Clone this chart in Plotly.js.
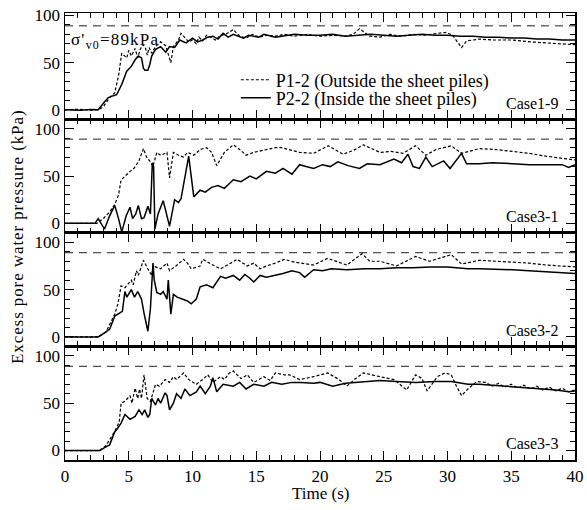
<!DOCTYPE html>
<html>
<head>
<meta charset="utf-8">
<script src="https://cdn.plot.ly/plotly-3.0.1.min.js"></script>
<style>
html,body{margin:0;padding:0;background:#fff;}
#chart{width:587px;height:510px;}
#chart g.annotation[data-index="4"] text{letter-spacing:1.2px;}
#chart g.annotation[data-index="5"] text{letter-spacing:0.9px;}
</style>
</head>
<body>
<div id="chart"></div>
<script>
// ---------- DATA ----------
var sigmaV0 = 89;
var caseLabels = ['Case1-9', 'Case3-1', 'Case3-2', 'Case3-3'];
var seriesNames = ['P1-2 (Outside the sheet piles)', 'P2-2 (Inside the sheet piles)'];
var xTickVals = [0, 5, 10, 15, 20, 25, 30, 35, 40];
var yTickVals = [0, 50, 100];

// Case1-9
var c19_p1_t = [0,1.0,2.0,2.6,3.0,3.5,3.9,4.2,4.45,4.65,4.84,5.0,5.2,5.5,5.7,5.9,6.1,6.3,6.45,6.6,6.8,7.1,7.5,7.9,8.1,8.3,8.5,8.9,9.1,9.4,9.7,10.0,10.3,10.5,10.8,11.1,11.3,11.8,12.2,12.6,13.2,13.7,14.2,14.7,15.2,15.8,16.5,17.2,18.0,19.0,20.0,21.0,22.0,22.6,23.1,23.9,24.7,25.5,26.3,27.3,28.2,29.2,29.9,30.4,31.1,31.5,32.5,33.5,35.1,36.5,37.7,38.8,40];
var c19_p1_v = [0,0.5,-0.3,0,3,13,18,36,60,57,55,63,57,65,55,64,69,66,58,66,60,67,72,68,58,50,67,74,81,76,72,74,70,77,73,79,78,74,79,80,85,78,76,80,77,79,78,80,78,80,78,79,78,80,86,78,77,80,78,80,79,81,82,79,66,73,75,74,74,72,71,70,69];
var c19_p2_t = [0,1.2,2.0,2.6,3.14,3.4,3.8,4.05,4.45,4.84,5.2,5.5,5.75,6.0,6.15,6.27,6.5,6.65,6.8,7.1,7.5,7.9,8.2,8.6,9.0,9.5,10.0,10.4,10.8,11.2,11.6,12.0,12.4,12.8,13.2,13.6,14.0,14.4,14.7,15.2,15.6,16.0,16.5,17.0,18.0,19.0,20.0,21.0,22.0,23.0,24.0,25.0,26.0,27.0,28.0,29.0,30.0,31.0,32.0,33.0,34.0,35.0,36.0,37.0,38.0,39.0,40];
var c19_p2_v = [0,-0.5,0.3,0,9,13,15,16,27,41,46,53,57,55,44,42,42,48,57,64,67,61,67,66,74,71,76,72,74,77,78,75,81,77,80,78,76,79,78,77,80,79,77,78,80,79,79,80,78,79,80,79,78,79,80,79,79,78,78,77,77,76,76,75,75,74,74];

// Case3-1
var c31_p1_t = [0,1.5,2.5,3.0,3.5,3.9,4.2,4.4,4.7,5.0,5.2,5.4,5.6,5.8,6.15,6.4,6.7,6.9,7.2,7.5,7.7,8.0,8.2,8.5,8.9,9.3,9.6,10.1,10.6,11.1,11.5,11.9,12.5,13.2,13.7,14.2,14.8,15.8,16.5,17.0,17.6,18.4,19.5,20.65,21.8,22.6,23.4,24.7,25.6,26.5,27.5,28.3,29.1,30.3,31.1,32.5,33.8,35.1,36.4,37.7,38.8,40];
var c31_p1_v = [0,0.3,0,5,12,20,30,46,50,53,56,58,62,66,79,70,65,60,75,72,73,75,48,75,72,70,75,72,78,80,75,61,75,83,78,72,75,78,80,80,78,75,74,82,73,77,83,75,76,74,82,72,78,82,74,79,78,76,74,71,69,67];
var c31_p2_t = [0,1.5,2.35,2.6,3.1,3.5,3.9,4.2,4.45,4.8,5.1,5.3,5.55,5.75,6.0,6.2,6.5,6.7,6.85,6.95,7.05,7.3,7.7,8.2,8.6,8.9,9.1,9.7,10.1,10.6,11.0,11.5,12.0,12.5,13.2,13.8,14.5,15.0,15.8,16.5,17.1,17.8,18.4,18.9,19.5,20.2,20.8,21.4,22.2,23.1,23.7,24.7,25.8,26.4,26.9,27.3,27.8,28.3,28.8,29.7,30.2,31.1,31.5,32.5,33.5,35.1,36.4,37.7,39.0,39.5,40];
var c31_p2_v = [0,-0.3,0,5,-6,8,19,5,-9,8,17,5,10,19,5,6,18,10,64,60,-6,10,24,-3,25,22,26,71,28,35,33,38,40,37,46,44,50,47,55,53,58,52,62,60,58,62,60,65,61,58,63,62,68,64,73,60,58,70,60,66,58,74,63,63,64,63,62,62,62,59,62];

// Case3-2
var c32_p1_t = [0,1.5,2.6,3.2,3.9,4.15,4.4,4.7,5.2,5.35,5.6,5.75,6.15,6.5,6.8,6.9,7.5,8.0,8.2,8.7,9.3,9.6,9.9,10.6,10.8,11.6,12.2,13.0,13.5,14.3,14.8,15.3,15.8,16.5,17.2,18.0,18.4,19.5,20.6,22.1,23.3,23.9,24.7,26.0,27.5,28.6,30.3,31.1,32.5,33.8,35.1,36.4,37.7,39.0,40];
var c32_p1_v = [0,0.2,0,5,24,35,54,52,60,55,70,65,81,72,65,75,72,78,70,75,82,78,72,75,82,76,72,78,82,75,78,72,75,78,82,79,78,76,83,76,88,80,80,75,85,80,87,77,81,80,79,78,76,75,74];
var c32_p2_t = [0,1.5,2.6,2.95,3.5,3.9,4.5,4.7,4.85,5.2,5.45,5.7,6.0,6.2,6.5,6.7,6.9,7.0,7.2,7.5,7.7,8.0,8.1,8.3,8.5,8.8,9.2,9.6,9.9,10.3,10.6,11.1,11.6,12.2,12.6,13.2,13.7,14.1,14.5,14.8,15.3,15.8,16.4,17.1,17.8,18.4,18.8,19.5,20.2,20.9,22.1,23.5,24.7,26.0,27.3,28.6,30.0,31.6,32.5,35.1,37.7,40];
var c32_p2_v = [0,-0.3,0,3,8,22,27,48,42,50,42,48,40,25,6,30,78,60,47,45,48,40,60,24,45,42,40,38,35,40,53,55,52,64,62,65,60,66,62,58,65,63,65,67,70,68,63,71,70,72,71,72,72,73,73,74,74,72,72,71,69,67];

// Case3-3
var c33_p1_t = [0,1.5,2.7,3.2,3.9,4.25,4.4,4.7,5.1,5.25,5.5,5.7,5.85,6.0,6.2,6.45,6.7,7.1,7.4,7.85,8.2,8.5,8.75,9.3,9.7,10.3,10.8,11.2,11.6,12.2,12.5,12.9,13.2,13.8,14.3,14.8,15.6,16.1,16.5,17.2,17.6,18.4,19.5,20.6,21.5,22.1,22.7,23.4,24.0,24.7,25.8,26.8,27.5,28.0,28.4,29.2,29.8,30.3,30.7,31.1,31.6,32.3,33.0,33.5,34.0,34.5,35.0,35.5,36.0,36.5,37.0,37.5,38.0,38.5,39.0,39.5,40];
var c33_p1_v = [0,0.2,0,5,20,30,50,52,58,50,66,55,65,55,80,55,52,70,68,75,72,78,75,82,75,70,75,80,72,78,75,82,84,76,80,72,78,74,82,80,80,75,78,82,75,68,75,82,80,78,75,64,80,76,63,78,82,80,68,58,65,73,72,68,71,67,70,66,69,65,68,64,67,63,66,62,64];
var c33_p2_t = [0,1.5,2.75,3.1,3.5,3.9,4.05,4.4,4.7,5.1,5.5,5.8,6.05,6.25,6.5,6.65,6.8,7.1,7.3,7.5,7.85,8.0,8.2,8.5,8.75,9.1,9.4,9.8,10.3,10.6,11.0,11.4,11.6,11.9,12.4,13.2,13.7,14.2,14.8,15.6,16.2,17.0,17.8,18.5,19.5,20.0,21.0,22.0,23.0,24.7,26.0,27.5,29.0,30.3,31.6,32.5,33.5,34.5,35.5,36.5,37.5,38.5,39.5,40];
var c33_p2_v = [0,-0.2,0,3,6,20,22,29,38,33,36,43,38,43,35,38,55,48,55,50,61,58,43,50,60,55,65,58,62,68,60,68,77,62,70,68,72,65,70,68,72,70,72,72,71,72,68,71,72,74,73,72,73,73,70,70,69,68,67,66,65,64,62,63];

// ---------- BUILD ----------
var FONT = 'Liberation Serif';
var FS = 17;
var panels = [
  {t1: c19_p1_t, v1: c19_p1_v, t2: c19_p2_t, v2: c19_p2_v},
  {t1: c31_p1_t, v1: c31_p1_v, t2: c31_p2_t, v2: c31_p2_v},
  {t1: c32_p1_t, v1: c32_p1_v, t2: c32_p2_t, v2: c32_p2_v},
  {t1: c33_p1_t, v1: c33_p1_v, t2: c33_p2_t, v2: c33_p2_v}
];
var domains = [[0.7623, 1], [0.5082, 0.7623], [0.2541, 0.5082], [0, 0.2541]];
var yRanges = [[-10, 102.6], [-10, 110], [-10, 110], [-10, 110]];

function fnt(s) { return {family: FONT, size: s || FS, color: '#000'}; }

var traces = [];
var legendCommon = {x: 0.335, xanchor: 'left', yanchor: 'middle', bgcolor: 'rgba(0,0,0,0)',
  font: fnt(18), itemwidth: 30, borderwidth: 0};
var layout = {
  width: 587, height: 510,
  margin: {l: 65, r: 12, t: 13, b: 50},
  paper_bgcolor: '#fff', plot_bgcolor: '#fff',
  font: fnt(),
  showlegend: true,
  legend: Object.assign({}, legendCommon, {y: 0.850}),
  legend2: Object.assign({}, legendCommon, {y: 0.810}),
  annotations: [], shapes: []
};

panels.forEach(function (p, i) {
  var n = i === 0 ? '' : String(i + 1);
  var xa = 'x' + n, ya = 'y' + n;
  traces.push({x: p.t1, y: p.v1, xaxis: xa, yaxis: ya, type: 'scatter', mode: 'lines',
    name: seriesNames[0], showlegend: i === 0, legend: 'legend',
    line: {color: '#000', width: 1.2, dash: '3px,2px'}});
  traces.push({x: p.t2, y: p.v2, xaxis: xa, yaxis: ya, type: 'scatter', mode: 'lines',
    name: seriesNames[1], showlegend: i === 0, legend: 'legend2',
    line: {color: '#000', width: 1.5}});
  layout['xaxis' + n] = {
    anchor: ya, domain: [0, 1], range: [0, 40], tickvals: xTickVals,
    ticks: 'inside', ticklen: 9, tickwidth: 1, tickcolor: '#000',
    minor: {dtick: 1, tick0: 0, ticks: 'inside', ticklen: 5, tickwidth: 1, tickcolor: '#000'},
    showline: true, linewidth: 1.5, linecolor: '#000', mirror: 'ticks',
    showgrid: false, zeroline: false, showticklabels: i === 3,
    tickfont: fnt(), matches: i === 0 ? undefined : 'x'
  };
  layout['yaxis' + n] = {
    anchor: xa, domain: domains[i], range: yRanges[i], tickvals: yTickVals,
    ticks: 'inside', ticklen: 9, tickwidth: 1, tickcolor: '#000',
    minor: {dtick: 10, tick0: 0, ticks: 'inside', ticklen: 5, tickwidth: 1, tickcolor: '#000'},
    showline: true, linewidth: 1.5, linecolor: '#000', mirror: 'ticks',
    showgrid: false, zeroline: false, tickfont: fnt()
  };
  layout.shapes.push({type: 'line', xref: xa + ' domain', yref: ya, x0: 0, x1: 1,
    y0: sigmaV0, y1: sigmaV0, line: {color: '#222', width: 1, dash: '8px,6px'}});
  layout.annotations.push({xref: xa, yref: ya, x: 38.8, y: 7, xanchor: 'right', yanchor: 'middle',
    text: caseLabels[i], showarrow: false, font: fnt(16)});
});

layout.annotations.push({xref: 'x', yref: 'y', x: 0.75, y: 73, xanchor: 'left', yanchor: 'middle',
  text: "σ'<sub>v0</sub>=89kPa", showarrow: false, font: fnt()});
layout.annotations.push({xref: 'paper', yref: 'paper', x: -0.094, y: 0.5, xanchor: 'center', yanchor: 'middle',
  textangle: -90, text: 'Excess pore water pressure (kPa)', showarrow: false, font: fnt()});
layout.annotations.push({xref: 'paper', yref: 'paper', x: 0.5, y: -0.074, xanchor: 'center', yanchor: 'middle',
  text: 'Time (s)', showarrow: false, font: fnt()});

Plotly.newPlot('chart', traces, layout, {staticPlot: true, displayModeBar: false});
</script>
</body>
</html>
